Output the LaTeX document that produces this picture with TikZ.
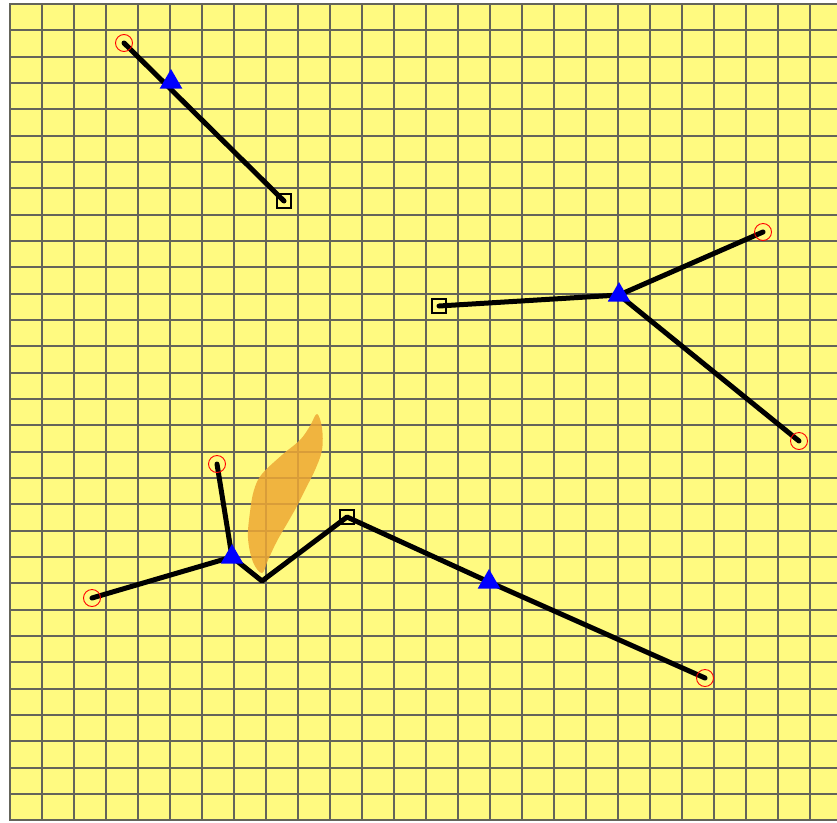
\documentclass[tikz,border=0pt]{standalone}
\usetikzlibrary{shapes.geometric,backgrounds}
\definecolor{paper}{RGB}{255,250,128}
\definecolor{gridc}{RGB}{100,100,90}
\definecolor{blob}{RGB}{238,168,52}
\definecolor{mblue}{RGB}{0,0,255}
\tikzset{
  circ/.style={circle,draw=red,line width=0.9pt,minimum size=17pt,inner sep=0pt},
  sq/.style={rectangle,draw=black,line width=1.3pt,minimum size=14pt,inner sep=0pt},
  tri/.style={regular polygon,regular polygon sides=3,fill=mblue,minimum size=26pt,inner sep=0pt},
  link/.style={line width=5pt,black,line cap=round,line join=round},
  gridline/.style={gridc,line width=2.3pt}
}
\begin{document}
\begin{tikzpicture}[x=1pt,y=-1pt]
\useasboundingbox (0,0) rectangle (837,822);
% markers
\node[circ] (c1) at (124,43) {};
\node[tri] (t1) at (171,82) {};
\node[sq] (s1) at (284,201) {};
\node[sq] (s2) at (439,306) {};
\node[tri] (t2) at (619,295) {};
\node[circ] (c2) at (763,232) {};
\node[circ] (c3) at (799,441) {};
\node[circ] (c4) at (217,464) {};
\node[tri] (t3) at (232,557) {};
\node[circ] (c5) at (92,598) {};
\coordinate (v1) at (262,581);
\node[sq] (s3) at (347,517) {};
\node[tri] (t4) at (489,582) {};
\node[circ] (c6) at (705,678) {};
\begin{pgfonlayer}{background}
\fill[white] (0,0) rectangle (837,822);
\fill[paper] (9,4) rectangle (837,820);
\foreach \k in {0,...,25} {
  \draw[gridline] ({10+32*\k},4) -- ({10+32*\k},820);
}
\foreach \k in {0,...,31} {
  \draw[gridline] (9,{4+26.333*\k}) -- (837,{4+26.333*\k});
}
% orange blob
\fill[blob,opacity=0.85] plot[smooth cycle,tension=0.6] coordinates {
  (317,414) (322,428) (322,450) (315,470) (306,488) (297,506) (288,522)
  (277,541) (268,560) (262,573) (253,562) (248,538) (250,512) (254,490)
  (262,474) (282,455) (300,440) (310,426)};
% links
\draw[link] (c1.center) -- (s1.center);
\draw[link] (s2.center) -- (t2.center);
\draw[link] (t2.center) -- (c2.center);
\draw[link] (t2.center) -- (c3.center);
\draw[link] (c4.center) -- (t3.center);
\draw[link] (c5.center) -- (t3.center);
\draw[link] (t3.center) -- (v1) -- (s3.center) -- (t4.center) -- (c6.center);
\end{pgfonlayer}
\end{tikzpicture}
\end{document}
